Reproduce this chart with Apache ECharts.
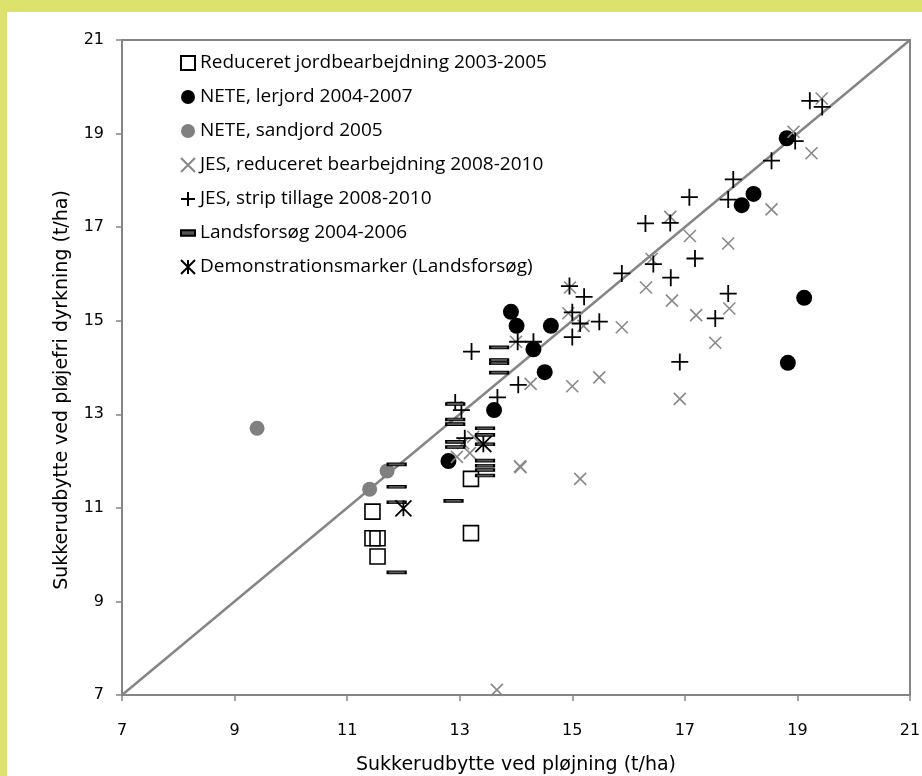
<!DOCTYPE html>
<html>
<head>
<meta charset="utf-8">
<script src="https://cdn.jsdelivr.net/npm/echarts@6/dist/echarts.min.js"></script>
<style>
html,body{margin:0;padding:0;background:#fff;}
#c{width:922px;height:776px;}
</style>
</head>
<body>
<div id="c"></div>
<script>
// ---- data ----
const seriesNames = [
  "Reduceret jordbearbejdning 2003-2005",
  "NETE, lerjord 2004-2007",
  "NETE, sandjord 2005",
  "JES, reduceret bearbejdning 2008-2010",
  "JES, strip tillage 2008-2010",
  "Landsforsøg 2004-2006",
  "Demonstrationsmarker (Landsforsøg)"
];
const reduceretData = [[11.45,10.92],[11.45,10.35],[11.54,10.35],[11.54,9.96],[13.2,11.62],[13.2,10.46]];
const neteLerData = [[12.8,12.0],[13.61,13.09],[13.91,15.19],[14.01,14.89],[14.31,14.39],[14.51,13.9],[14.62,14.89],[18.01,17.47],[18.22,17.71],[18.81,18.9],[19.12,15.49],[18.83,14.1]];
const neteSandData = [[9.4,12.7],[11.4,11.4],[11.71,11.79]];
const jesRedData = [[16.74,17.22],[17.09,16.81],[17.77,16.65],[16.41,16.32],[16.31,15.71],[16.77,15.43],[17.2,15.12],[17.79,15.26],[17.54,14.53],[15.88,14.86],[15.48,13.79],[15.0,13.6],[16.91,13.33],[14.96,15.71],[14.93,15.16],[15.2,14.89],[19.43,19.75],[18.93,19.04],[19.25,18.58],[18.54,17.38],[15.14,11.62],[14.08,11.87],[14.07,11.89],[14.26,13.65],[14.0,14.55],[13.06,12.38],[13.18,12.17],[12.95,12.09],[13.24,12.52],[13.66,7.11]];
const jesStripData = [[12.92,13.25],[13.03,13.09],[13.09,12.49],[13.21,14.34],[13.67,13.36],[14.04,13.63],[14.03,14.55],[14.31,14.55],[14.95,15.74],[15.21,15.51],[15.0,15.18],[15.14,14.94],[15.48,14.98],[15.0,14.65],[15.88,16.01],[16.3,17.08],[16.74,17.09],[16.44,16.21],[16.75,15.92],[17.08,17.64],[17.18,16.33],[17.77,17.59],[17.86,18.02],[17.77,15.58],[17.54,15.05],[16.91,14.12],[18.54,18.42],[18.96,18.84],[19.22,19.7],[19.44,19.57]];
const landsData = [[11.88,11.93],[11.88,11.45],[11.88,11.12],[11.88,9.62],[12.89,11.15],[12.92,13.22],[12.92,12.89],[12.92,12.79],[12.92,12.41],[12.92,12.3],[13.45,12.7],[13.45,12.56],[13.45,12.36],[13.45,12.01],[13.45,11.9],[13.45,11.81],[13.45,11.69],[13.7,14.43],[13.7,14.16],[13.7,14.09],[13.7,13.89]];
const demoData = [[12.0,10.99],[13.42,12.36]];
const diagonalData = [[7,7],[21,21]];
const axisMin = 7, axisMax = 21, axisStep = 2;
const xTitle = "Sukkerudbytte ved pløjning (t/ha)";
const yTitle = "Sukkerudbytte ved pløjefri dyrkning (t/ha)";

// ---- chart ----
const chart = echarts.init(document.getElementById('c'), null, {renderer:'canvas'});
const GRAY = '#858585';
const axisCommon = {
  type:'value', min:axisMin, max:axisMax, interval:axisStep,
  splitLine:{show:false},
  axisLine:{show:true, lineStyle:{color:GRAY, width:2}},
  axisTick:{show:true, inside:false, length:6, lineStyle:{color:GRAY, width:1.5}},
  axisLabel:{color:'#000', fontFamily:'DejaVu Sans', fontSize:16},
  nameLocation:'middle',
  nameTextStyle:{color:'#000', fontFamily:'DejaVu Sans', fontSize:19}
};
const noEmph = {disabled:true};
const option = {
  animation:false,
  backgroundColor:'#fff',
  graphic:[
    {type:'rect', shape:{x:0,y:0,width:922,height:12}, style:{fill:'#dde26c'}, z:-10, silent:true},
    {type:'rect', shape:{x:0,y:0,width:7,height:776}, style:{fill:'#dde26c'}, z:-10, silent:true},
    {type:'text', x:62, y:390, rotation:Math.PI/2, silent:true,
     style:{text:yTitle, fill:'#000', font:'19px "DejaVu Sans"', align:'center', verticalAlign:'middle'}}
  ],
  grid:{left:122, top:40, right:12, bottom:81, outerBoundsMode:'none', containLabel:false,
        show:true, borderColor:GRAY, borderWidth:2, backgroundColor:'#fff'},
  xAxis:Object.assign({}, axisCommon, {name:xTitle, nameGap:61, axisLabel:Object.assign({}, axisCommon.axisLabel, {margin:28})}),
  yAxis:Object.assign({}, axisCommon, {axisLabel:Object.assign({}, axisCommon.axisLabel, {margin:18})}),
  legend:{
    data:seriesNames, orient:'vertical', left:175, top:48,
    itemWidth:14, itemHeight:14, itemGap:14,
    textStyle:{color:'#000', fontFamily:'Open Sans', fontSize:19, lineHeight:20},
    selectedMode:false
  },
  series:[
    {type:'line', data:diagonalData, symbol:'none', lineStyle:{color:GRAY, width:2.5}, z:1, emphasis:noEmph, silent:true},
    {name:seriesNames[0], type:'scatter', data:reduceretData, symbol:'rect', symbolSize:15,
     itemStyle:{color:'rgba(255,255,255,0)', borderColor:'#000', borderWidth:1.6, opacity:1}, z:2, emphasis:noEmph},
    {name:seriesNames[1], type:'scatter', data:neteLerData, symbol:'circle', symbolSize:16,
     itemStyle:{color:'#000', opacity:1}, z:2, emphasis:noEmph},
    {name:seriesNames[2], type:'scatter', data:neteSandData, symbol:'circle', symbolSize:15,
     itemStyle:{color:'#808080', opacity:1}, z:2, emphasis:noEmph},
    {name:seriesNames[3], type:'scatter', data:jesRedData, symbol:'path://M0,0L10,10M10,0L0,10', symbolSize:12, symbolKeepAspect:true,
     itemStyle:{color:'#888', borderColor:'#888', borderWidth:1.6, opacity:1}, z:2, emphasis:noEmph},
    {name:seriesNames[4], type:'scatter', data:jesStripData, symbol:'path://M5,0L5,10M0,5L10,5', symbolSize:17, symbolKeepAspect:true,
     itemStyle:{color:'#000', borderColor:'#000', borderWidth:1.8, opacity:1}, z:2, emphasis:noEmph},
    {name:seriesNames[5], type:'scatter', data:landsData, symbol:'path://M0,0L18,0L18,7L0,7Z', symbolSize:[18,7], symbolKeepAspect:true,
     itemStyle:{color:'#555', borderColor:'#000', borderWidth:1.4, opacity:1}, z:2, emphasis:noEmph},
    {name:seriesNames[6], type:'scatter', data:demoData, symbol:'path://M0,0L10,10M10,0L0,10M5,0L5,10', symbolSize:16, symbolKeepAspect:true,
     itemStyle:{color:'#000', borderColor:'#000', borderWidth:1.8, opacity:1}, z:2, emphasis:noEmph}
  ]
};
chart.setOption(option);
</script>
</body>
</html>
